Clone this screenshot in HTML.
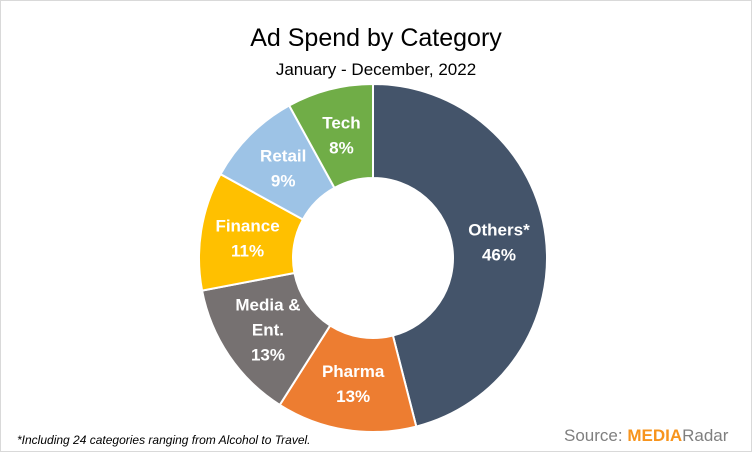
<!DOCTYPE html>
<html><head><meta charset="utf-8"><style>
body{margin:0;background:#fff}
#c{position:relative;width:750px;height:450px;border:1px solid #d9d9d9;font-family:"Liberation Sans",sans-serif;background:#fff}
</style></head><body>
<div id="c">
<svg id="s" width="750" height="450">
<text x="375" y="45" text-anchor="middle" font-size="25" fill="#000">Ad Spend by Category</text>
<text x="375" y="74" text-anchor="middle" font-size="17" fill="#000">January - December, 2022</text>
<text x="16" y="443" font-size="12" font-style="italic" fill="#000">*Including 24 categories ranging from Alcohol to Travel.</text>
<text x="563" y="440" font-size="17" fill="#7f7f7f">Source: <tspan fill="#f7941d" font-weight="bold">MEDIA</tspan><tspan fill="#7f7f7f">Radar</tspan></text>
<g id="slices"></g>
</svg>
</div>
<script>
const categories=["Others*","Pharma","Media & Ent.","Finance","Retail","Tech"];
const values=[46,13,13,11,9,8];
const colors=["#44546A","#ED7D31","#767171","#FFC000","#9DC3E6","#70AD47"];
const labelLines=[["Others*","46%"],["Pharma","13%"],["Media &","Ent.","13%"],["Finance","11%"],["Retail","9%"],["Tech","8%"]];
const cx=372,cy=257,R=174,r=80;
const g=document.getElementById('slices');
const ns='http://www.w3.org/2000/svg';
const total=values.reduce((a,b)=>a+b,0);
let a0=0;
function pt(rad,a){return [cx+rad*Math.sin(a),cy-rad*Math.cos(a)];}
values.forEach((v,i)=>{
  const a1=a0+v/total*2*Math.PI;
  const large=(a1-a0)>Math.PI?1:0;
  const p1=pt(R,a0),p2=pt(R,a1),p3=pt(r,a1),p4=pt(r,a0);
  const p=document.createElementNS(ns,'path');
  p.setAttribute('d',`M${p1}A${R},${R} 0 ${large} 1 ${p2}L${p3}A${r},${r} 0 ${large} 0 ${p4}Z`);
  p.setAttribute('fill',colors[i]);p.setAttribute('stroke','#fff');p.setAttribute('stroke-width','2');
  
  
  g.appendChild(p);
  const am=(a0+a1)/2,lp=pt((R+r)/2,am);
  const lines=labelLines[i];
  const t=document.createElementNS(ns,'text');
  t.setAttribute('text-anchor','middle');t.setAttribute('font-size','17');t.setAttribute('font-weight','bold');t.setAttribute('fill','#fff');
  
  
  lines.forEach((l,j)=>{const ts=document.createElementNS(ns,'tspan');ts.setAttribute('x',lp[0]);ts.setAttribute('y',lp[1]+6+(j-(lines.length-1)/2)*25);ts.textContent=l;t.appendChild(ts);});
  g.appendChild(t);
  a0=a1;
});
</script>
</body></html>
